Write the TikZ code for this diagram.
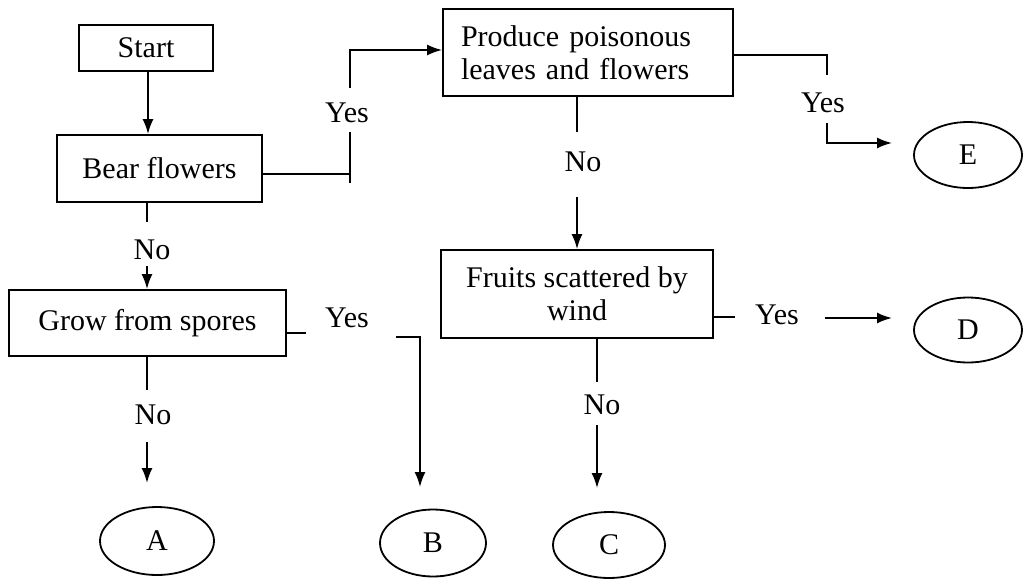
\documentclass[tikz,border=0pt]{standalone}
\usepackage{fontspec}
\setmainfont{Liberation Serif}
\usetikzlibrary{arrows.meta,shapes.geometric}
\begin{document}
\begin{tikzpicture}[x=1pt,y=-1pt,
  txt/.style={font=\fontsize{30}{33}\selectfont},
  box/.style={draw, line width=1.8pt, inner sep=0pt, txt},
  term/.style={draw, ellipse, line width=1.8pt, inner sep=0pt, txt},
  lbl/.style={inner sep=0pt, txt},
  conn/.style={line width=1.8pt},
  arr/.style={line width=1.8pt, -{Latex[length=15pt,width=11pt]}}]
\useasboundingbox (0,0) rectangle (1023,579);

% boxes
\node[box, minimum width=134pt, minimum height=46pt] (start) at (146,48) {Start};
\node[box, minimum width=205pt, minimum height=67pt] (bear) at (159.5,168.5) {Bear flowers};
\node[box, text width=254pt, inner xsep=18pt, minimum height=87pt, align=left] (prod) at (588,52.5) {Produce poisonous\\leaves and flowers};
\node[box, minimum width=272pt, minimum height=88pt, align=center] (fruit) at (577,294) {Fruits scattered by\\wind};
\node[box, minimum width=277pt, minimum height=66pt] (grow) at (147.5,323) {Grow from spores};

% terminals
\node[term, minimum width=108pt, minimum height=66pt] (E) at (968,155) {E};
\node[term, minimum width=108pt, minimum height=65pt] (D) at (968,330) {D};
\node[term, minimum width=112pt, minimum height=66pt] (C) at (609,545) {C};
\node[term, minimum width=106pt, minimum height=67pt] (B) at (433,543) {B};
\node[term, minimum width=114pt, minimum height=68pt] (A) at (157,541) {A};

% labels
\node[lbl] (ybear) at (347,113) {Yes};
\node[lbl] (yprod) at (823,103) {Yes};
\node[lbl] (nprod) at (583,162) {No};
\node[lbl] (yfruit) at (777,315) {Yes};
\node[lbl] (nfruit) at (602,405) {No};
\node[lbl] (nbear) at (152,250) {No};
\node[lbl] (ygrow) at (347,318) {Yes};
\node[lbl] (ngrow) at (153,415) {No};

% Start -> Bear
\coordinate (s1) at (148,100);
\draw[arr] (start.south -| s1) -- (bear.north -| s1);

% Bear -> Produce (Yes)
\coordinate (p1) at (350,174);
\coordinate (p0) at (350,183);
\coordinate (p2) at (350,132);
\coordinate (p3) at (350,88);
\coordinate (p4) at (350,50);
\draw[conn] (bear.east |- p1) -- (p1);
\draw[conn] (p0) -- (p2);
\draw[arr] (p3) -- (p4) -- (prod.west |- p4);

% Produce -> E (Yes)
\coordinate (e1) at (827,55);
\coordinate (e2) at (827,75);
\coordinate (e3) at (827,123);
\coordinate (e4) at (827,143);
\coordinate (e5) at (892,143);
\draw[conn] (prod.east |- e1) -- (e1) -- (e2);
\draw[arr] (e3) -- (e4) -- (e5);

% Produce -> Fruits (No)
\coordinate (n1) at (577,132);
\coordinate (n2) at (577,197);
\draw[conn] (prod.south -| n1) -- (n1);
\draw[arr] (n2) -- (fruit.north -| n2);

% Fruits -> D (Yes)
\coordinate (d1) at (735,317);
\coordinate (d2) at (825,318);
\coordinate (d3) at (892,318);
\draw[conn] (fruit.east |- d1) -- (d1);
\draw[arr] (d2) -- (d3);

% Fruits -> C (No)
\coordinate (c1) at (597,382);
\coordinate (c2) at (597,425);
\coordinate (c3) at (597,488);
\draw[conn] (fruit.south -| c1) -- (c1);
\draw[arr] (c2) -- (c3);

% Bear -> Grow (No)
\coordinate (g1) at (147,222);
\coordinate (g2) at (147,266);
\draw[conn] (bear.south -| g1) -- (g1);
\draw[arr] (g2) -- (grow.north -| g2);

% Grow -> B (Yes)
\coordinate (h1) at (306,333);
\coordinate (h2) at (396,337);
\coordinate (h3) at (420,337);
\coordinate (h4) at (420,487);
\draw[conn] (grow.east |- h1) -- (h1);
\draw[arr] (h2) -- (h3) -- (h4);

% Grow -> A (No)
\coordinate (a1) at (147,390);
\coordinate (a2) at (147,442);
\coordinate (a3) at (147,483);
\draw[conn] (grow.south -| a1) -- (a1);
\draw[arr] (a2) -- (a3);
\end{tikzpicture}
\end{document}
